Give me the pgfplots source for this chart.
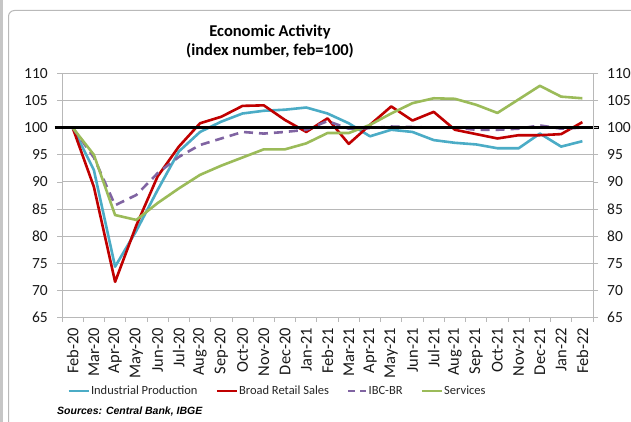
\documentclass[border=0pt]{standalone}
\usepackage{fontspec}
\setmainfont{Carlito}
\newfontfamily\srcfont{Liberation Sans}
\usepackage{pgfplots}
\usepackage{pgfplotstable}
\pgfplotsset{compat=1.18}
\definecolor{indblue}{HTML}{4BACC6}
\definecolor{retred}{HTML}{C00000}
\definecolor{ibcpurple}{HTML}{8064A2}
\definecolor{servgreen}{HTML}{9BBB59}
\definecolor{gridgray}{HTML}{B8B8B8}
\pgfplotsset{ibclegend/.style={legend image code/.code={\draw[##1, dash pattern=on 7pt off 5pt] (0pt,0pt) -- (18pt,0pt);}}}

\pgfplotstableread{
i  ind    ret    ibc    serv
0  100.0  100.0  100.0  100.0
1  92.2   89.1   94.5   95.0
2  74.4   71.6   85.7   83.9
3  81.0   82.0   87.6   83.0
4  88.5   91.0   91.6   86.1
5  95.6   96.5   94.6   88.8
6  99.2   100.8  96.8   91.3
7  101.1  102.0  98.0   93.0
8  102.6  104.0  99.2   94.5
9  103.1  104.1  98.9   96.0
10 103.3  101.4  99.2   96.0
11 103.7  99.2   99.6   97.1
12 102.6  101.7  101.2  99.0
13 100.8  97.0   99.8   99.0
14 98.4   100.5  99.9   100.5
15 99.6   103.9  100.2  102.6
16 99.2   101.3  100.1  104.5
17 97.7   102.9  100.0  105.4
18 97.2   99.6   100.0  105.3
19 96.9   98.8   99.6   104.2
20 96.2   98.0   99.6   102.7
21 96.2   98.6   99.8   105.2
22 98.9   98.6   100.4  107.7
23 96.5   98.8   99.8   105.7
24 97.5   101.0  100.0  105.4
}\datatable

\begin{document}
\begin{tikzpicture}[x=1pt,y=1pt]
\useasboundingbox (0,0) rectangle (631,422);
\fill[white] (0,0) rectangle (631,422);
\fill[gray!45] (0,0) rectangle (3,422);
\draw[gray!55, line width=1pt, rounded corners=6pt] (8.5,-10) rectangle (660,411.5);

\node[font=\bfseries\fontsize{16.5}{18}\selectfont, anchor=base] at (270,385) {Economic Activity};
\node[font=\bfseries\fontsize{16.5}{18}\selectfont, anchor=base] at (270,366) {(index number, feb=100)};
\node[font=\srcfont\bfseries\itshape\fontsize{10.5}{12}\selectfont, anchor=base west, inner sep=0pt] at (57,7) {Sources: Central Bank, IBGE};

\begin{axis}[
  at={(62pt,104.3pt)}, anchor=south west,
  scale only axis, width=531pt, height=244.4pt,
  xmin=-0.5, xmax=24.5, ymin=65, ymax=110,
  ytick={65,70,...,110},
  xtick={0,...,24},
  xticklabels={Feb-20,Mar-20,Apr-20,May-20,Jun-20,Jul-20,Aug-20,Sep-20,Oct-20,Nov-20,Dec-20,Jan-21,Feb-21,Mar-21,Apr-21,May-21,Jun-21,Jul-21,Aug-21,Sep-21,Oct-21,Nov-21,Dec-21,Jan-22,Feb-22},
  minor xtick={-0.5,0.5,...,24.5},
  xtick pos=bottom, ytick pos=left,
  tick align=outside,
  major x tick style={draw=none},
  minor tick length=4pt,
  major tick length=5pt,
  tick style={gridgray, line width=0.8pt},
  axis line style={gridgray, line width=0.9pt},
  ymajorgrids, grid style={gridgray, line width=0.9pt},
  /pgf/number format/assume math mode=true,
  yticklabel style={font=\fontsize{15.5}{16}\selectfont, anchor=east, inner sep=0pt, xshift=-9pt, text=black!90},
  xticklabel style={font=\fontsize{16.5}{17}\selectfont, rotate=90, anchor=east, inner sep=0pt, text=black!90},
  xticklabel shift=5pt,
  clip=false,
  legend columns=4,
  legend style={draw=none, fill=none, at={(axis cs:-0.5,65)}, anchor=center, xshift=-62pt+277pt, yshift=-104.3pt+31pt,
    font=\fontsize{12.5}{14}\selectfont, inner sep=0pt, nodes={inner sep=1pt, text=black!85},
    /tikz/every odd column/.append style={column sep=0pt},
    /tikz/every even column/.append style={column sep=17pt},
    /tikz/column 4/.append style={column sep=8pt}},
  legend image code/.code={\draw[#1] (0pt,0pt) -- (20pt,0pt);},
]
\addplot[indblue, line width=2.6pt, line join=round] table[x=i, y=ind] {\datatable};
\addlegendentry{Industrial Production}
\addplot[retred, line width=2.6pt, line join=round] table[x=i, y=ret] {\datatable};
\addlegendentry{Broad Retail Sales}
\addplot[ibcpurple, line width=2.6pt, dash pattern=on 9pt off 6pt, ibclegend] table[x=i, y=ibc] {\datatable};
\addlegendentry{IBC-BR}
\addplot[servgreen, line width=2.6pt, line join=round] table[x=i, y=serv] {\datatable};
\addlegendentry{Services}
\addplot[black, line width=2.8pt, forget plot] coordinates {(-0.85,100) (24.8,100)};
\end{axis}

\begin{axis}[
  at={(62pt,104.3pt)}, anchor=south west,
  scale only axis, width=531pt, height=244.4pt,
  xmin=-0.5, xmax=24.5, ymin=65, ymax=110,
  ytick={65,70,...,110},
  axis x line=none, axis y line*=right,
  tick align=outside, major tick length=5pt,
  tick style={gridgray, line width=0.8pt},
  axis line style={gridgray, line width=0.9pt},
  /pgf/number format/assume math mode=true,
  yticklabel style={font=\fontsize{15.5}{16}\selectfont, anchor=west, inner sep=0pt, xshift=9pt, text=black!90},
]
\addplot[draw=none] coordinates {(0,100)};
\end{axis}
\end{tikzpicture}
\end{document}
